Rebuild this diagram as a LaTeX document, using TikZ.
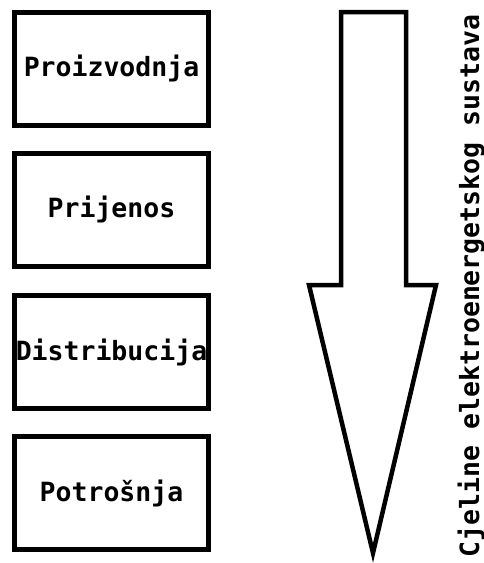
\documentclass[tikz,border=0pt]{standalone}
\usepackage{fontspec}
\setmonofont{DejaVu Sans Mono}
\begin{document}
\begin{tikzpicture}[x=1pt,y=-1pt,
  stage/.style={draw=black, line width=5pt, minimum width=194pt, minimum height=113pt,
    inner sep=0pt, font=\ttfamily\bfseries\fontsize{26.5}{30}\selectfont},
  flow/.style={draw=black, line width=4.5pt, line join=miter, fill=white},
  side/.style={font=\ttfamily\bfseries\fontsize{26.5}{30}\selectfont}]
\useasboundingbox (0,0) rectangle (484,563);
\node[stage] (p1) at (111.5,68.5) {Proizvodnja};
\node[stage] (p2) at (111.5,209.5) {Prijenos};
\node[stage] (p3) at (111.5,352) {Distribucija};
\node[stage] (p4) at (111.5,493) {Potrošnja};
\draw[flow] (341,12) -- (406,12) -- (406,285) -- (436,285) -- (373,553) -- (309,285) -- (341,285) -- cycle;
\node[side, rotate=90, anchor=base] (lbl) at (479,286) {Cjeline elektroenergetskog sustava};
\end{tikzpicture}
\end{document}
